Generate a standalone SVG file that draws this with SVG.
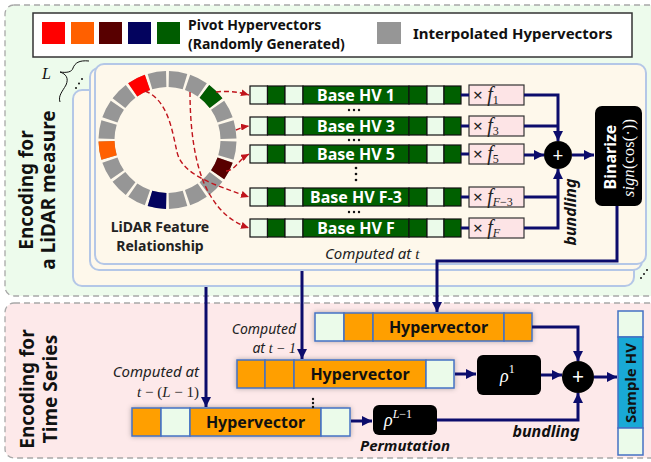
<svg xmlns="http://www.w3.org/2000/svg" width="651" height="462" viewBox="0 0 651 462">
<defs>
<style>
 .sans{font-family:"Noto Sans","Open Sans",sans-serif}
 .b{font-weight:bold}
 .it{font-style:italic}
 .math{font-family:"Liberation Serif","DejaVu Serif",serif}
 .region{stroke:#a8a8a8;stroke-width:1.3;stroke-dasharray:6 4}
 .panel{fill:#fef8eb;stroke:#b4c7e7;stroke-width:2}
 .cw{fill:#ebfbea;stroke:#111;stroke-width:1.2}
 .cg{fill:#006000;stroke:#111;stroke-width:1.2}
 .mul{fill:#fde4e6;stroke:#333;stroke-width:1.2}
 .wire{fill:none;stroke:#0c0c6c;stroke-width:3}
 .link{fill:none;stroke:#c0141c;stroke-width:1.4;stroke-dasharray:5 3}
 .ho{fill:#ff9f00;stroke:#4472c4;stroke-width:1.5}
 .hw{fill:#ebfbea;stroke:#4472c4;stroke-width:1.5}
 .seg{fill:none;stroke-width:16}
 .bhv{fill:#fff;font-size:16px;text-anchor:middle}
 .hvt{fill:#111;font-size:16px;text-anchor:middle}
 .mt{fill:#222;font-size:17px}
 .fv{font-size:20px}
 .sub{font-size:12px}
 .note{fill:#222;font-size:15px}
 .note2{fill:#222;font-size:14px}
</style>
<marker id="ah" markerUnits="userSpaceOnUse" viewBox="0 0 10 10" markerWidth="10" markerHeight="10" refX="10" refY="5" orient="auto">
 <path d="M0,0 L10,5 L0,10 z" fill="#0c0c6c"/>
</marker>
<marker id="rh" markerUnits="userSpaceOnUse" viewBox="0 0 8 7" markerWidth="8" markerHeight="7" refX="8" refY="3.5" orient="auto">
 <path d="M0,0 L8,3.5 L0,7 z" fill="#c0141c"/>
</marker>
<filter id="sh" x="-10%" y="-40%" width="120%" height="180%">
 <feDropShadow dx="0" dy="0" stdDeviation="2.5" flood-color="#000" flood-opacity="0.3"/>
</filter>
<!-- one base hypervector strip: 7 cells -->
<g id="basebar">
 <rect class="cw" x="0" y="0" width="17.5" height="18"/>
 <rect class="cg" x="17.5" y="0" width="17.5" height="18"/>
 <rect class="cw" x="35" y="0" width="18" height="18"/>
 <rect class="cg" x="53" y="0" width="106" height="18"/>
 <rect class="cg" x="159" y="0" width="18" height="18"/>
 <rect class="cw" x="177" y="0" width="17" height="18"/>
 <rect class="cg" x="194" y="0" width="17" height="18"/>
</g>
<!-- horizontal ellipsis dots -->
<g id="hdots" fill="#111">
 <circle cx="-5" cy="0" r="1.2"/><circle cx="0" cy="0" r="1.2"/><circle cx="5" cy="0" r="1.2"/>
</g>
</defs>

<!-- background regions -->
<rect class="region" x="5" y="5" width="660" height="291" rx="9" fill="#edfbec"/>
<rect class="region" x="5" y="303" width="660" height="155" rx="9" fill="#fde9ea"/>

<!-- legend -->
<g id="legend">
 <rect x="33" y="13" width="599" height="44" fill="#fff" stroke="#333" stroke-width="1.5"/>
 <rect x="42" y="22" width="23" height="22" fill="#ff0000"/>
 <rect x="71" y="22" width="23" height="22" fill="#ff6000"/>
 <rect x="99" y="22" width="23" height="22" fill="#580000"/>
 <rect x="128" y="22" width="23" height="22" fill="#03035e"/>
 <rect x="157" y="22" width="23" height="22" fill="#005c00"/>
 <text class="sans b" x="188" y="29.5" font-size="14" fill="#111">Pivot Hypervectors<tspan x="188" dy="19.2">(Randomly Generated)</tspan></text>
 <rect x="377" y="22" width="24" height="22" fill="#969696"/>
 <text class="sans b" x="413" y="39" font-size="15" fill="#111">Interpolated Hypervectors</text>
</g>

<!-- side labels -->
<g id="label-lidar">
 <text class="sans b" transform="translate(33,190) rotate(-90)" text-anchor="middle" font-size="19" fill="#111">Encoding for</text>
 <text class="sans b" transform="translate(55,190) rotate(-90)" text-anchor="middle" font-size="19" fill="#111">a LiDAR measure</text>
</g>
<g id="label-series">
 <text class="sans b" transform="translate(34,389) rotate(-90)" text-anchor="middle" font-size="19" fill="#111">Encoding for</text>
 <text class="sans b" transform="translate(57,389) rotate(-90)" text-anchor="middle" font-size="19" fill="#111">Time Series</text>
</g>

<!-- L brace and stack dots -->
<g id="stack-count">
 <text class="math it" x="42" y="79" font-size="16" fill="#111">L</text>
 <path d="M89 61 C79 60 75 63 73 68 C72 72 67 73 60 72 C66 74 69 78 66 85 C62 92 58 96 60 102" fill="none" stroke="#111" stroke-width="1"/>
 <circle cx="76" cy="88" r="1" fill="#111"/>
 <circle cx="79" cy="83.5" r="1" fill="#111"/>
 <circle cx="82" cy="79" r="1" fill="#111"/>
 <circle cx="641" cy="278" r="1" fill="#111"/>
 <circle cx="644" cy="274" r="1" fill="#111"/>
 <circle cx="647" cy="270" r="1" fill="#111"/>
</g>

<!-- stacked per-time panels -->
<g id="panels">
 <rect class="panel" x="73" y="90" width="561" height="196" rx="9"/>
 <rect class="panel" x="90" y="68" width="552" height="202" rx="9"/>
 <rect class="panel" x="95" y="64" width="551" height="200" rx="9"/>
</g>

<!-- feature ring: 20 segments -->
<g id="ring">
 <circle class="seg" cx="167.5" cy="140" r="61" stroke="#969696" pathLength="360" stroke-dasharray="15.5 2.5" stroke-dashoffset="-1.25"/>
 <circle class="seg" cx="167.5" cy="140" r="61" stroke="#ff0000" pathLength="360" stroke-dasharray="15.5 344.5" stroke-dashoffset="-235.25"/>
 <circle class="seg" cx="167.5" cy="140" r="61" stroke="#005c00" pathLength="360" stroke-dasharray="15.5 344.5" stroke-dashoffset="-307.25"/>
 <circle class="seg" cx="167.5" cy="140" r="61" stroke="#580000" pathLength="360" stroke-dasharray="15.5 344.5" stroke-dashoffset="-19.25"/>
 <circle class="seg" cx="167.5" cy="140" r="61" stroke="#03035e" pathLength="360" stroke-dasharray="15.5 344.5" stroke-dashoffset="-91.25"/>
 <circle class="seg" cx="167.5" cy="140" r="61" stroke="#ff6000" pathLength="360" stroke-dasharray="15.5 344.5" stroke-dashoffset="-163.25"/>
 <text class="sans b" x="160" y="232" text-anchor="middle" font-size="14" fill="#222">LiDAR Feature<tspan x="160" dy="19.2">Relationship</tspan></text>
</g>

<!-- base hypervectors -->
<g id="base-1"><use href="#basebar" x="250" y="86"/><text class="sans b bhv" x="356" y="100.5">Base HV 1</text></g>
<g id="base-3"><use href="#basebar" x="250" y="117"/><text class="sans b bhv" x="356" y="131.5">Base HV 3</text></g>
<g id="base-5"><use href="#basebar" x="250" y="145"/><text class="sans b bhv" x="356" y="159.5">Base HV 5</text></g>
<g id="base-f3"><use href="#basebar" x="250" y="188"/><text class="sans b bhv" x="356" y="202.5">Base HV F-3</text></g>
<g id="base-f"><use href="#basebar" x="250" y="219"/><text class="sans b bhv" x="356" y="233.5">Base HV F</text></g>
<g id="elisions" fill="#111">
 <use href="#hdots" x="354" y="110"/>
 <use href="#hdots" x="354" y="140"/>
 <circle cx="356" cy="168" r="1.3"/><circle cx="356" cy="174" r="1.3"/><circle cx="356" cy="180" r="1.3"/>
 <use href="#hdots" x="354" y="212"/>
</g>

<!-- weights -->
<g id="mul-1"><rect class="mul" x="469" y="85" width="55" height="20"/><text class="sans mt" x="473" y="101">× <tspan class="math it fv">f</tspan><tspan class="math sub" dy="3">1</tspan></text></g>
<g id="mul-3"><rect class="mul" x="469" y="116" width="55" height="20"/><text class="sans mt" x="473" y="132">× <tspan class="math it fv">f</tspan><tspan class="math sub" dy="3">3</tspan></text></g>
<g id="mul-5"><rect class="mul" x="469" y="144" width="55" height="20"/><text class="sans mt" x="473" y="160">× <tspan class="math it fv">f</tspan><tspan class="math sub" dy="3">5</tspan></text></g>
<g id="mul-f3"><rect class="mul" x="469" y="187" width="55" height="20"/><text class="sans mt" x="473" y="203">× <tspan class="math it fv">f</tspan><tspan class="math it sub" dy="3">F</tspan><tspan class="math sub">−3</tspan></text></g>
<g id="mul-f"><rect class="mul" x="469" y="218" width="55" height="20"/><text class="sans mt" x="473" y="234">× <tspan class="math it fv">f</tspan><tspan class="math it sub" dy="3">F</tspan></text></g>

<!-- bundling sum and binarize -->
<g id="sum-lidar">
 <circle cx="558" cy="155" r="14" fill="#000"/>
 <text class="sans" x="558" y="161.5" text-anchor="middle" font-size="19" fill="#fff">+</text>
 <text class="sans b it" transform="translate(576,212) rotate(-90)" text-anchor="middle" font-size="16" fill="#111">bundling</text>
</g>
<g id="binarize">
 <rect x="595" y="106" width="47" height="100" rx="7" fill="#000"/>
 <text class="sans b" transform="translate(616,157) rotate(-90)" text-anchor="middle" font-size="16" fill="#fff">Binarize</text>
 <text class="math" transform="translate(634,158) rotate(-90)" text-anchor="middle" font-size="16" fill="#fff" textLength="78"><tspan font-style="italic">sign</tspan>(cos(·))</text>
</g>
<text class="sans it note" x="325" y="259">Computed at <tspan class="math">t</tspan></text>

<!-- time-series hypervectors -->
<g id="hv-t" filter="url(#sh)">
 <rect class="hw" x="315" y="313" width="29" height="28"/>
 <rect class="ho" x="344" y="313" width="29" height="28"/>
 <rect class="ho" x="373" y="313" width="131" height="28"/>
 <rect class="ho" x="504" y="313" width="28" height="28"/>
</g>
<text class="sans b hvt" x="438.5" y="333">Hypervector</text>
<g id="hv-t1" filter="url(#sh)">
 <rect class="ho" x="237" y="360" width="28" height="28"/>
 <rect class="ho" x="265" y="360" width="29" height="28"/>
 <rect class="ho" x="294" y="360" width="132" height="28"/>
 <rect class="hw" x="426" y="360" width="28" height="28"/>
</g>
<text class="sans b hvt" x="360" y="380">Hypervector</text>
<g id="hv-tl" filter="url(#sh)">
 <rect class="ho" x="132" y="408" width="29" height="28"/>
 <rect class="hw" x="161" y="408" width="29" height="28"/>
 <rect class="ho" x="190" y="408" width="131" height="28"/>
 <rect class="hw" x="321" y="408" width="29" height="28"/>
</g>
<text class="sans b hvt" x="255.5" y="428">Hypervector</text>
<g id="vdots" fill="#111"><circle cx="313" cy="399" r="1.2"/><circle cx="313" cy="403" r="1.2"/><circle cx="313" cy="407" r="1.2"/></g>

<text class="sans it note2" x="296" y="334" text-anchor="end">Computed<tspan x="296" dy="19.2">at <tspan class="math">t − 1</tspan></tspan></text>
<text class="sans it note" x="199" y="377" text-anchor="end">Computed at<tspan class="math" font-style="normal" x="199" dy="20"><tspan font-style="italic">t</tspan> − (<tspan font-style="italic">L</tspan> − 1)</tspan></text>

<!-- permutations -->
<g id="perm-1">
 <rect x="477" y="355" width="64" height="40" rx="6" fill="#000"/>
 <text class="math it" x="500" y="382" font-size="18" fill="#fff">ρ<tspan font-style="normal" font-size="12" dy="-9">1</tspan></text>
</g>
<g id="perm-l">
 <rect x="373" y="405" width="64" height="30" rx="6" fill="#000"/>
 <text class="math it" x="384" y="426" font-size="18" fill="#fff">ρ<tspan font-size="12" dy="-8">L</tspan><tspan font-style="normal" font-size="12">−1</tspan></text>
 <text class="sans b it" x="405" y="451" text-anchor="middle" font-size="15" fill="#111">Permutation</text>
</g>
<g id="sum-series">
 <circle cx="578" cy="377" r="16" fill="#000"/>
 <text class="sans" x="578" y="384" text-anchor="middle" font-size="21" fill="#fff">+</text>
 <text class="sans b it" x="546" y="437" text-anchor="middle" font-size="16" fill="#111">bundling</text>
</g>
<g id="sample-hv">
 <rect class="hw" x="618" y="311" width="25" height="26"/>
 <rect x="618" y="337" width="25" height="91" fill="#19a9d6" stroke="#4472c4" stroke-width="1.5"/>
 <rect class="hw" x="618" y="428" width="25" height="27"/>
 <text class="sans b" transform="translate(636,383) rotate(-90)" text-anchor="middle" font-size="15" fill="#111">Sample HV</text>
</g>

<!-- connectors -->
<g id="connectors">
 <path class="link" d="M216 92 Q232 90 249 95" marker-end="url(#rh)"/>
 <path class="link" d="M236 130 Q242 127 249 126" marker-end="url(#rh)"/>
 <path class="link" d="M226 171 C236 170 238 160 249 154" marker-end="url(#rh)"/>
 <path class="link" d="M145 91 C168 100 172 130 177 152 C182 175 215 185 249 197" marker-end="url(#rh)"/>
 <path class="link" d="M190 92 C190 130 195 170 210 195 C220 212 232 222 249 228" marker-end="url(#rh)"/>

 <path class="wire" d="M461 95 H469"/>
 <path class="wire" d="M461 126 H469"/>
 <path class="wire" d="M461 154 H469"/>
 <path class="wire" d="M461 197 H469"/>
 <path class="wire" d="M461 228 H469"/>
 <path class="wire" d="M524 95 H558 V141" marker-end="url(#ah)"/>
 <path class="wire" d="M524 126 H558"/>
 <path class="wire" d="M524 155 H544" marker-end="url(#ah)"/>
 <path class="wire" d="M524 197 H558"/>
 <path class="wire" d="M524 228 H558 V169" marker-end="url(#ah)"/>
 <path class="wire" d="M572 155 H594" marker-end="url(#ah)"/>
 <path class="wire" d="M617 206 V261 H437 V312" marker-end="url(#ah)"/>
 <path class="wire" d="M302 271 V359" marker-end="url(#ah)"/>
 <path class="wire" d="M206 287 V407" marker-end="url(#ah)"/>

 <path class="wire" d="M532 327 H578 V361" marker-end="url(#ah)"/>
 <path class="wire" d="M455 374 H476" marker-end="url(#ah)"/>
 <path class="wire" d="M541 375 H562" marker-end="url(#ah)"/>
 <path class="wire" d="M351 421 H372" marker-end="url(#ah)"/>
 <path class="wire" d="M437 420 H578 V393" marker-end="url(#ah)"/>
 <path class="wire" d="M594 377 H617" marker-end="url(#ah)"/>
</g>
</svg>
